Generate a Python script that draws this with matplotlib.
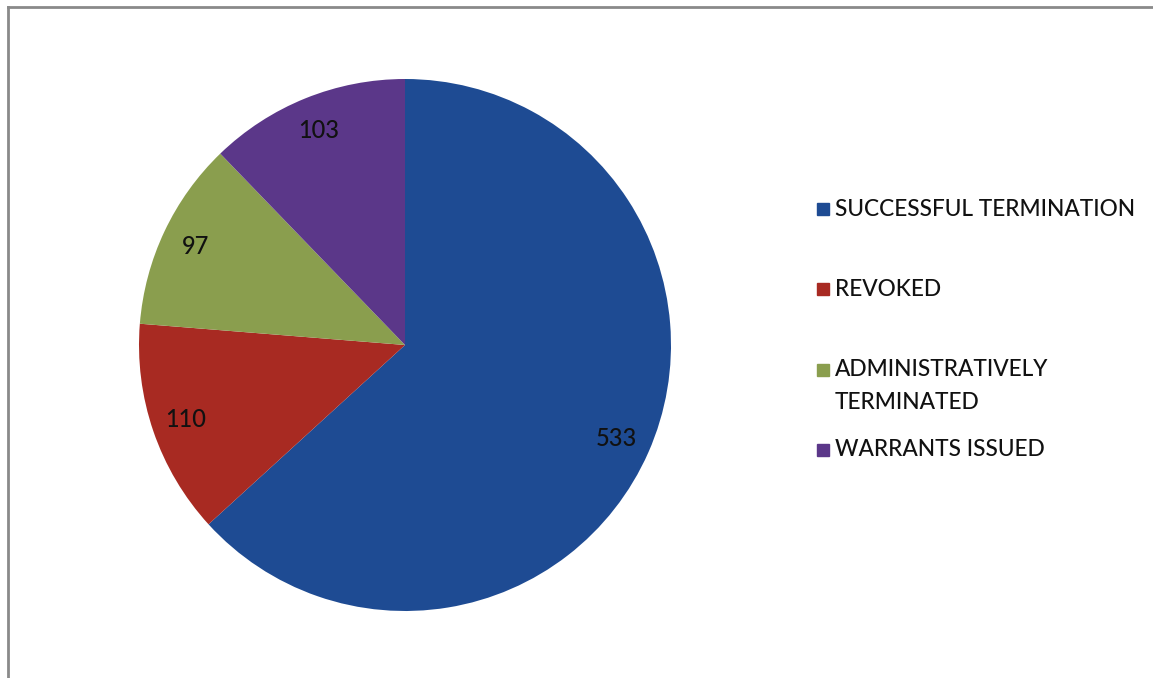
import matplotlib
matplotlib.use("Agg")
import numpy as np
import matplotlib.pyplot as plt
from matplotlib.patches import Rectangle
from matplotlib.lines import Line2D

categories = ["SUCCESSFUL TERMINATION", "REVOKED",
              "ADMINISTRATIVELY\nTERMINATED", "WARRANTS ISSUED"]
counts = [533, 110, 97, 103]
colors = ["#1E4B93", "#A82A22", "#8A9E4E", "#5B3789"]

W, H = 1153, 678
fig = plt.figure(figsize=(W / 100, H / 100), dpi=100)
fig.patch.set_facecolor("white")

# pie area (pixel-based placement)
cx, cy, r = 405, 345, 266
ax = fig.add_axes([(cx - r) / W, (H - cy - r) / H, 2 * r / W, 2 * r / H])
wedges, _ = ax.pie(counts, colors=colors, startangle=90, counterclock=False,
                   radius=1.0, wedgeprops=dict(linewidth=0))
total = sum(counts)
ang = 90.0
for v, w in zip(counts, wedges):
    span = 360.0 * v / total
    mid = np.deg2rad(ang - span / 2)
    ang -= span
    ax.text(0.87 * np.cos(mid), 0.87 * np.sin(mid), str(v),
            ha="center", va="center", fontsize=17, family="Lato",
            weight="medium", color="#111111")
ax.set_xlim(-1, 1)
ax.set_ylim(-1, 1)
ax.set_aspect("equal")
ax.axis("off")

# legend
legend_y = [209, 289, 386, 450]
for lab, col, y in zip(categories, colors, legend_y):
    nlines = lab.count("\n") + 1
    ytop = y - (nlines - 1) * 16.5
    fig.patches.append(Rectangle((817 / W, (H - ytop - 6) / H), 12 / W, 12 / H,
                                 transform=fig.transFigure, color=col))
    fig.text(835 / W, (H - y) / H, lab, ha="left", va="center", fontsize=16.3,
             family="Lato", weight="medium", color="#111111", linespacing=1.68)

# chart frame
fig.lines.append(Line2D([8 / W, 8 / W], [0, (H - 7) / H], transform=fig.transFigure,
                        color="#8a8a8a", lw=2))
fig.lines.append(Line2D([8 / W, 1], [(H - 7) / H, (H - 7) / H], transform=fig.transFigure,
                        color="#8a8a8a", lw=2))

fig.savefig("out.png", dpi=100)
